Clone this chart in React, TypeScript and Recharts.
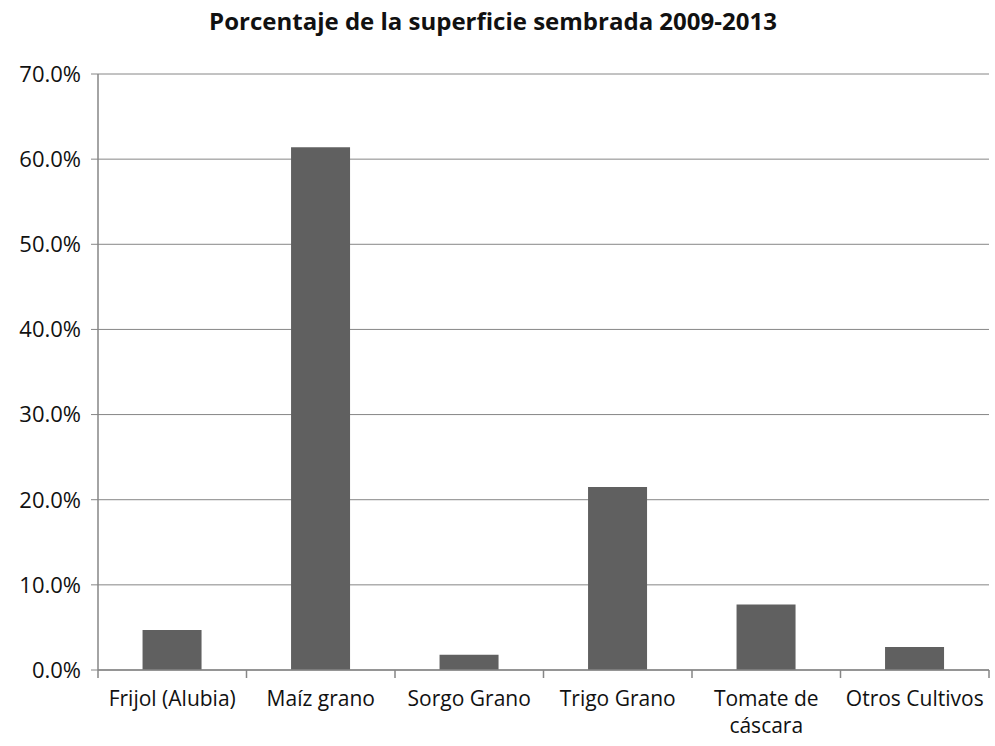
import { BarChart, Bar, XAxis, YAxis, CartesianGrid } from 'recharts';

const categories = ['Frijol (Alubia)', 'Maíz grano', 'Sorgo Grano', 'Trigo Grano', 'Tomate de\ncáscara', 'Otros Cultivos'];
const shares = [4.7, 61.4, 1.8, 21.5, 7.7, 2.7];
const yTicks = [0, 10, 20, 30, 40, 50, 60, 70];

const data = categories.map((name, i) => ({ name, value: shares[i] }));

const FONT = "'Open Sans', sans-serif";
const AXIS = '#868686';
const BASE_Y = 670;

const CategoryTick = (props: any) => {
  const { x, payload, index, width } = props;
  const band = width / categories.length;
  const lines: string[] = String(payload.value).split('\n');
  return (
    <g>
      <line x1={x - band / 2} y1={BASE_Y} x2={x - band / 2} y2={BASE_Y + 8} stroke={AXIS} strokeWidth={1.5} />
      {index === categories.length - 1 && (
        <line x1={x + band / 2} y1={BASE_Y} x2={x + band / 2} y2={BASE_Y + 8} stroke={AXIS} strokeWidth={1.5} />
      )}
      {lines.map((l, i) => (
        <text key={i} x={x} y={BASE_Y + 36 + i * 27} textAnchor="middle" fill="#111" fontSize={21} fontFamily={FONT}>
          {l}
        </text>
      ))}
    </g>
  );
};

export default function App() {
  return (
    <div style={{ position: 'absolute', left: 0, top: 0, width: 995, height: 746, background: '#fff' }}>
      <div
        style={{
          position: 'absolute',
          top: 3,
          left: 0,
          width: 986,
          textAlign: 'center',
          fontFamily: FONT,
          fontWeight: 700,
          fontSize: 24,
          lineHeight: '36px',
          color: '#111',
        }}
      >
        Porcentaje de la superficie sembrada 2009-2013
      </div>
      <BarChart
        width={995}
        height={746}
        data={data}
        margin={{ top: 74, right: 6, bottom: 0, left: 0 }}
        barCategoryGap="30%"
      >
        <CartesianGrid vertical={false} stroke={AXIS} strokeWidth={1} />
        <XAxis
          dataKey="name"
          interval={0}
          tickLine={false}
          axisLine={{ stroke: AXIS, strokeWidth: 1.5 }}
          tick={<CategoryTick />}
          height={76}
        />
        <YAxis
          domain={[0, 70]}
          ticks={yTicks}
          width={98}
          tickSize={7}
          tickMargin={10}
          tickLine={{ stroke: AXIS }}
          axisLine={{ stroke: AXIS, strokeWidth: 1.5 }}
          tickFormatter={(v: number) => `${v.toFixed(1)}%`}
          tick={{ fill: '#111', fontSize: 22, fontFamily: FONT }}
        />
        <Bar dataKey="value" fill="#606060" isAnimationActive={false} />
      </BarChart>
    </div>
  );
}
